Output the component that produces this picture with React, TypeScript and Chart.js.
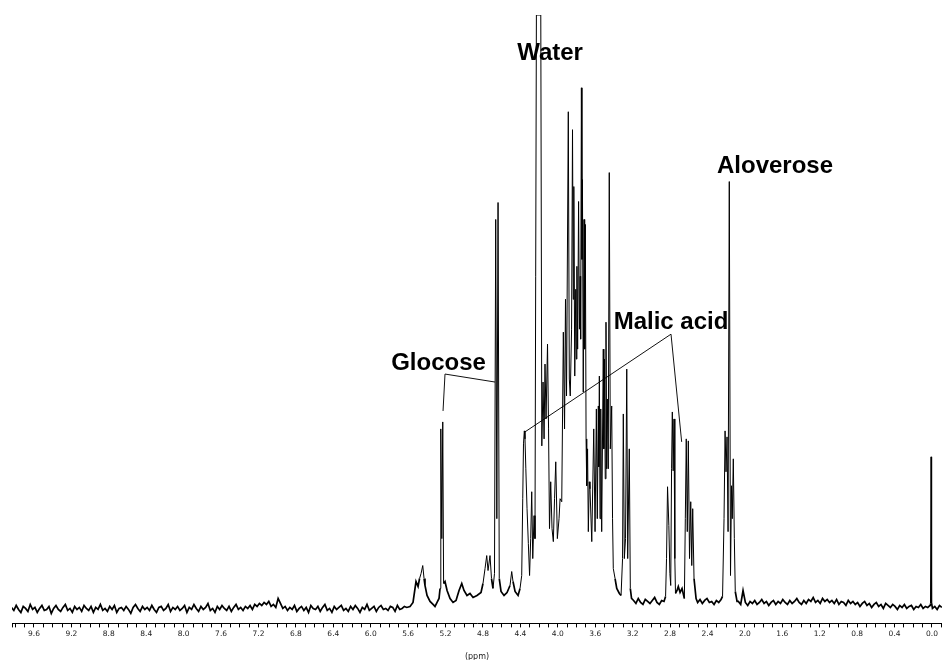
import React, { useEffect, useRef } from 'react';
import { Chart, registerables } from 'chart.js';

Chart.register(...registerables);

// ---------- axis ----------
const axisMinPpm = -0.107;
const axisMaxPpm = 9.835;
const minorTickStep = 0.1;
const majorTicks = [9.6, 9.2, 8.8, 8.4, 8.0, 7.6, 7.2, 6.8, 6.4, 6.0, 5.6, 5.2, 4.8, 4.4, 4.0, 3.6, 3.2, 2.8, 2.4, 2.0, 1.6, 1.2, 0.8, 0.4, 0.0];
const axisTitle = '(ppm)';
const intensityMin = -17;
const intensityMax = 593;

// ---------- baseline noise (sampled every NOISE_STEP ppm, from start downwards) ----------
const NOISE_STEP = 0.025;
const noiseAStart = 9.84;
const noiseA = [
  -1, -4, 1, -3, -6, 0, -2, -5, 2, -3,
  -1, -6, -2, 1, -4, -3, 0, -7, -2, 1,
  -3, -5, -1, 2, -4, -2, -6, 0, -3, -1,
  -5, 1, -2, -4, 0, -6, -1, -3, 2, -4,
  -2, -5, 0, -3, 1, -6, -2, -1, -4, 0,
  -3, -7, -1, 2, -2, -5, 0, -3, -1, -4,
  1, -3, -6, -1, 0, -4, -2, 2, -5, -1,
  -3, 0, -4, -2, 1, -6, -1, -3, 2, -2,
  -5, 0, -3, -1, 3, -4, -2, -6, 0, -3,
  1, -2, -4, 0, -5, -1, 2, -3, -1, -4,
  0, -2, 1, -3, 2, 0, 3, 1, 4, 2,
  5, 0, 2, -1, 8, 3, -2, 0, -4, -1,
  -3, 1, -5, -2, 0, -4, -1, -6, 1, -2,
  -3, 0, -5, -1, 2, -4, -2, -6, 0, -3,
  -1, 1, -4, -2, -5, 0, -3, 1, -2, -6,
  -1, -3, 2, -4, -2, 0, -5, -1, 1, -3,
  -2, -4, 0, -1, -5, 1, -3, -2, 0, -1,
];
const noiseBStart = 3.19;
const noiseB = [6, 3, 8, 4, 2, 7, 5, 3, 6, 9, 4, 2, 6, 5];
const noiseCStart = 2.505;
const noiseC = [4, 7, 3, 6, 8, 4, 5, 2, 6, 4, 7];
const noiseDStart = 2.07;
const noiseD = [
  5, 2, 16, 4, 1, 5, 3, 6, 2, 4,
  7, 3, 5, 1, 4, 6, 2, 5, 3, 7,
  4, 2, 6, 3, 5, 8, 4, 2, 6, 3,
  7, 5, 9, 4, 6, 3, 8, 5, 7, 4,
  6, 3, 7, 2, 5, 4, 1, 6, 3, 5,
  2, 4, 0, 3, 5, 1, 3, -1, 2, 4,
  0, 2, -2, 3, 1, -1, 2, 0, -3, 1,
  -1, 2, -2, 0, 1, -3, 0, -1, 2, -2,
  0, -1, 1, -2, 0, -3, 1, -1,
];

// ---------- signal vertices (ppm, intensity) ----------
const signalPpm = [
  5.580, 5.548, 5.516, 5.494, 5.478, 5.462, 5.444, 5.430, 5.420, 5.398,
  5.366, 5.334, 5.313, 5.291, 5.270, 5.259, 5.251, 5.240, 5.230, 5.221,
  5.206, 5.184, 5.152, 5.120, 5.088, 5.056, 5.027, 5.003, 4.971, 4.939,
  4.906, 4.864, 4.821, 4.800, 4.778, 4.760, 4.746, 4.725, 4.709, 4.693,
  4.677, 4.664, 4.652, 4.639, 4.626, 4.607, 4.575, 4.543, 4.511, 4.493,
  4.479, 4.457, 4.425, 4.404, 4.386, 4.375, 4.367, 4.358, 4.351, 4.342,
  4.329, 4.315, 4.302, 4.290, 4.279, 4.268, 4.254, 4.244, 4.229, 4.182,
  4.171, 4.158, 4.147, 4.137, 4.126, 4.110, 4.099, 4.089, 4.076, 4.062,
  4.048, 4.035, 4.022, 4.005, 3.987, 3.976, 3.958, 3.941, 3.928, 3.918,
  3.907, 3.888, 3.877, 3.867, 3.853, 3.843, 3.835, 3.829, 3.819, 3.808,
  3.802, 3.796, 3.788, 3.778, 3.769, 3.761, 3.756, 3.748, 3.742, 3.737,
  3.728, 3.720, 3.713, 3.706, 3.698, 3.691, 3.682, 3.674, 3.664, 3.656,
  3.637, 3.616, 3.602, 3.588, 3.578, 3.567, 3.562, 3.556, 3.549, 3.541,
  3.531, 3.514, 3.508, 3.501, 3.493, 3.485, 3.478, 3.471, 3.461, 3.450,
  3.439, 3.424, 3.415, 3.407, 3.388, 3.370, 3.342, 3.324, 3.308, 3.300,
  3.289, 3.276, 3.263, 3.253, 3.236, 3.225, 3.212,
  2.848, 2.838, 2.827, 2.813, 2.802, 2.793, 2.784, 2.776, 2.767, 2.758,
  2.749, 2.742, 2.726, 2.712, 2.693, 2.672, 2.647, 2.637, 2.627, 2.616,
  2.605, 2.592, 2.579, 2.568, 2.558, 2.544, 2.522,
  2.239, 2.223, 2.212, 2.202, 2.191, 2.180, 2.167, 2.154, 2.143, 2.135,
  2.124, 2.113, 2.103, 2.084,
];
const signalInt = [
  0, 4, 25, 20, 28, 33, 41, 28, 21, 11,
  5, 2, 0, 4, 8, 18, 178, 68, 185, 23,
  25, 16, 8, 4, 6, 16, 23, 16, 11, 13,
  9, 11, 14, 23, 38, 51, 36, 51, 28, 18,
  33, 388, 88, 405, 28, 15, 11, 14, 21, 35,
  25, 15, 11, 18, 31, 108, 163, 176, 168, 138,
  98, 63, 31, 68, 115, 48, 91, 68, 593, 593,
  161, 225, 168, 243, 188, 263, 178, 78, 125, 78,
  65, 108, 145, 68, 88, 108, 105, 275, 178, 308,
  211, 496, 228, 211, 278, 478, 308, 421, 231, 318,
  248, 341, 258, 406, 278, 331, 268, 520, 348, 428,
  215, 388, 258, 383, 168, 121, 158, 75, 125, 118,
  65, 178, 75, 198, 88, 201, 140, 231, 88, 198,
  75, 258, 158, 248, 128, 285, 138, 208, 138, 435,
  158, 201, 88, 38, 28, 18, 13, 11, 48, 193,
  48, 68, 238, 48, 158, 18, 8,
  10, 48, 120, 81, 33, 21, 138, 195, 136, 188,
  48, 13, 16, 20, 14, 18, 8, 88, 168, 75,
  166, 48, 105, 41, 98, 28, 8,
  10, 88, 176, 135, 170, 75, 426, 31, 121, 88,
  148, 68, 15, 5,
];

// TMS reference signal
const tmsPpm = [0.016, 0.010, 0.004];
const tmsInt = [3, 150, 3];

// ---------- annotations ----------
const labelTexts = ['Water', 'Aloverose', 'Glocose', 'Malic acid'];
const labelPpm = [4.083, 1.678, 5.275, 2.790];
const labelInt = [548, 435, 237, 278];
const glucoseLeaderPpm = [5.227, 5.206, 4.671];
const glucoseLeaderInt = [196, 233, 225];
const malicLeaderPpm = [4.351, 2.790, 2.676];
const malicLeaderInt = [175, 273, 165];

function buildSpectrum() {
  const pts: { x: number; y: number }[] = [];
  const segs: [number, number[]][] = [
    [noiseAStart, noiseA],
    [noiseBStart, noiseB],
    [noiseCStart, noiseC],
    [noiseDStart, noiseD],
  ];
  segs.forEach(([start, vals]) => {
    vals.forEach((v, i) => pts.push({ x: +(start - i * NOISE_STEP).toFixed(4), y: v }));
  });
  signalPpm.forEach((p, i) => pts.push({ x: p, y: signalInt[i] }));
  tmsPpm.forEach((p, i) => pts.push({ x: p, y: tmsInt[i] }));
  pts.sort((a, b) => b.x - a.x);
  return pts;
}

const annotationPlugin = {
  id: 'nmrAnnotations',
  beforeDatasetsDraw(chart: any) {
    const { ctx } = chart;
    const xs = chart.scales.x;
    const ys = chart.scales.y;
    ctx.save();
    ctx.strokeStyle = '#111';
    ctx.lineWidth = 1;
    const leaders: [number[], number[]][] = [
      [glucoseLeaderPpm, glucoseLeaderInt],
      [malicLeaderPpm, malicLeaderInt],
    ];
    leaders.forEach(([pp, ii]) => {
      ctx.beginPath();
      pp.forEach((p, i) => {
        const px = xs.getPixelForValue(p);
        const py = ys.getPixelForValue(ii[i]);
        if (i === 0) ctx.moveTo(px, py);
        else ctx.lineTo(px, py);
      });
      ctx.stroke();
    });
    ctx.font = 'bold 24px "Liberation Sans", Arial, Helvetica, sans-serif';
    ctx.fillStyle = '#000';
    ctx.textAlign = 'center';
    ctx.textBaseline = 'alphabetic';
    labelTexts.forEach((t, i) => {
      ctx.fillText(t, xs.getPixelForValue(labelPpm[i]), ys.getPixelForValue(labelInt[i]));
    });
    ctx.restore();
  },
};

export default function App() {
  const canvasRef = useRef<HTMLCanvasElement | null>(null);

  useEffect(() => {
    if (!canvasRef.current) return;
    const data = buildSpectrum();
    const tickValues: number[] = [];
    for (let k = Math.ceil(axisMinPpm / minorTickStep); k * minorTickStep <= axisMaxPpm + 1e-9; k++) {
      tickValues.push(+(k * minorTickStep).toFixed(2));
    }
    tickValues.push(axisMaxPpm);

    const chart = new Chart(canvasRef.current, {
      type: 'scatter',
      data: {
        datasets: [
          {
            data,
            showLine: true,
            borderColor: '#000',
            borderWidth: 1,
            pointRadius: 0,
            pointHoverRadius: 0,
            tension: 0,
            fill: false,
            segment: {
              // unresolved baseline noise renders as a dense, darker band
              borderWidth: (c: any) =>
                Math.abs(c.p0.parsed.y) < 30 && Math.abs(c.p1.parsed.y) < 30 ? 1.7 : 1,
            },
          },
        ],
      },
      options: {
        animation: false,
        responsive: false,
        devicePixelRatio: 1,
        events: [],
        layout: { padding: { left: 12, right: 0, top: 15, bottom: 0 } },
        plugins: {
          legend: { display: false },
          tooltip: { enabled: false },
        },
        scales: {
          x: {
            type: 'linear',
            reverse: true,
            min: axisMinPpm,
            max: axisMaxPpm,
            afterBuildTicks: (axis: any) => {
              axis.ticks = tickValues.map((v) => ({ value: v }));
            },
            ticks: {
              autoSkip: false,
              maxRotation: 0,
              minRotation: 0,
              padding: 2,
              color: '#222',
              font: { family: '"DejaVu Sans", Verdana, sans-serif', size: 7.5 },
              callback: (value: any) => {
                const v = Number(value);
                return majorTicks.some((m) => Math.abs(m - v) < 1e-6) ? v.toFixed(1) : '';
              },
            },
            grid: {
              display: true,
              drawOnChartArea: false,
              drawTicks: true,
              tickLength: 4,
              color: '#000',
              lineWidth: 1,
            },
            border: { display: true, color: '#000', width: 1 },
            title: {
              display: true,
              text: axisTitle,
              color: '#222',
              font: { family: '"DejaVu Sans", Verdana, sans-serif', size: 8 },
              padding: { top: 12, bottom: -2 },
            },
          },
          y: {
            type: 'linear',
            display: false,
            min: intensityMin,
            max: intensityMax,
          },
        },
      },
      plugins: [annotationPlugin],
    });
    return () => chart.destroy();
  }, []);

  return (
    <div style={{ position: 'absolute', left: 0, top: 0, width: 942, height: 660, background: '#fff' }}>
      <canvas ref={canvasRef} width={942} height={660} style={{ display: 'block' }} />
    </div>
  );
}
